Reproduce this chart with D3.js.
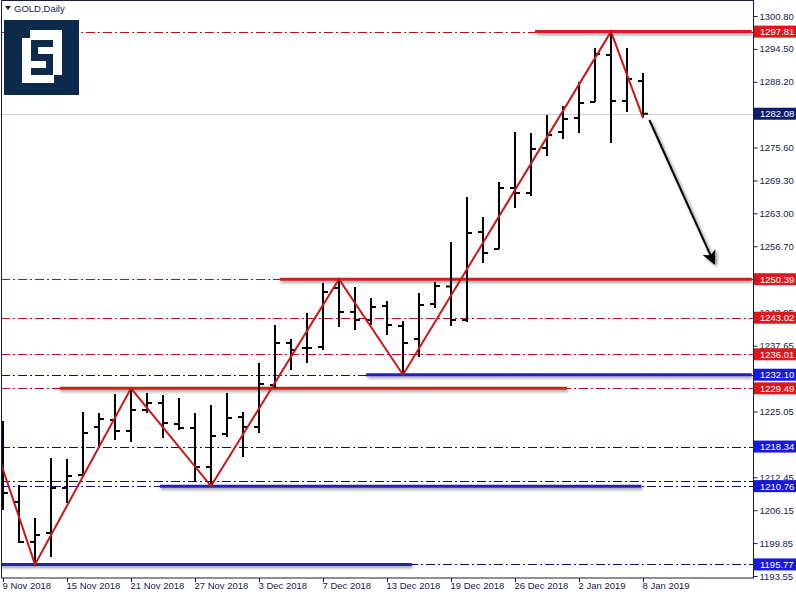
<!DOCTYPE html>
<html><head><meta charset="utf-8">
<script src="https://cdn.jsdelivr.net/npm/d3@7/dist/d3.min.js"></script>
<style>
html,body{margin:0;padding:0;background:#fff;}
svg{display:block;}
text{font-family:"Liberation Sans",Arial,sans-serif;}
</style></head>
<body>
<script>
// ---- data ----
const dates = ["9 Nov 2018","12 Nov 2018","13 Nov 2018","14 Nov 2018","15 Nov 2018","16 Nov 2018",
 "19 Nov 2018","20 Nov 2018","21 Nov 2018","22 Nov 2018","23 Nov 2018","26 Nov 2018","27 Nov 2018",
 "28 Nov 2018","29 Nov 2018","30 Nov 2018","3 Dec 2018","4 Dec 2018","5 Dec 2018","6 Dec 2018",
 "7 Dec 2018","10 Dec 2018","11 Dec 2018","12 Dec 2018","13 Dec 2018","14 Dec 2018","17 Dec 2018",
 "18 Dec 2018","19 Dec 2018","20 Dec 2018","21 Dec 2018","24 Dec 2018","26 Dec 2018","27 Dec 2018",
 "28 Dec 2018","31 Dec 2018","2 Jan 2019","3 Jan 2019","4 Jan 2019","7 Jan 2019","8 Jan 2019"];
const open  = [1220.00,1207.72,1200.06,1201.78,1210.40,1212.89,1222.09,1223.43,1221.32,1225.34,1226.68,1222.66,1221.90,
 1214.42,1220.75,1224.00,1222.09,1230.13,1238.17,1237.22,1237.41,1248.71,1244.11,1242.58,1245.26,1241.43,1238.94,
 1245.64,1249.00,1242.58,1259.43,1256.18,1267.86,1266.90,1275.52,1278.58,1281.26,1284.33,1293.33,1284.52,1288.35];
const high  = [1223.23,1210.98,1204.66,1216.15,1215.96,1224.96,1224.77,1228.41,1229.49,1228.60,1228.21,1227.64,1224.77,
 1226.30,1228.60,1224.96,1234.34,1241.62,1238.94,1243.92,1249.66,1250.39,1248.90,1246.79,1246.22,1242.39,1247.75,
 1249.86,1257.52,1266.13,1262.30,1269.01,1278.58,1278.39,1281.84,1283.56,1288.16,1294.67,1297.81,1294.67,1289.88];
const low   = [1206.19,1199.87,1195.77,1197.19,1207.53,1212.51,1218.06,1219.60,1219.21,1224.77,1219.98,1221.51,1211.55,
 1210.76,1220.17,1216.34,1220.94,1229.55,1233.00,1234.34,1236.83,1241.24,1240.66,1241.62,1239.71,1232.10,1235.49,
 1244.88,1241.43,1242.20,1253.49,1256.18,1264.03,1266.33,1273.99,1277.24,1278.39,1284.33,1276.48,1282.41,1281.30];
const close = [1209.45,1200.06,1201.40,1210.40,1212.70,1220.94,1223.62,1221.32,1225.34,1226.68,1222.85,1221.90,1214.42,
 1220.36,1223.81,1222.09,1230.32,1238.17,1236.83,1237.22,1247.94,1244.11,1242.58,1245.07,1241.62,1238.17,1245.45,
 1249.09,1242.58,1259.24,1255.41,1267.86,1266.90,1275.33,1278.01,1281.07,1284.14,1293.52,1284.52,1288.73,1282.08];
// zigzag vertices: [bar index, price]
const zigIdx   = [-1, 2, 8, 13, 21, 25, 38, 40];
const zigPrice = [1223.04, 1195.77, 1229.49, 1210.76, 1250.39, 1232.10, 1297.81, 1281.30];
// axis tick labels
const yTicks = [1300.80,1294.50,1288.20,1275.60,1269.30,1263.00,1256.70,1243.95,1237.65,1225.05,1212.45,1206.15,1199.85,1193.55];
const xTickIdx = [0,4,8,12,16,20,24,28,32,36,40];
// horizontal levels
const dashLevels = [1297.81,1250.39,1243.02,1236.01,1229.49,1232.10,1218.34,1211.74,1210.76,1195.77];
const dashKinds  = ["r","r","r","r","r","b","b","b","b","b"];
const segPrice = [1297.81,1250.39,1229.49,1232.10,1210.76,1195.77];
const segFrom  = [33.25,17.3,3.55,22.7,9.8,-0.3];
const segTo    = [46.8,46.8,35.25,46.8,39.9,25.55];
const segKind  = ["r","r","r","b","b","b"];
const labelPrice = [1297.81,1282.08,1250.39,1243.02,1236.01,1232.10,1229.49,1218.34,1210.76,1195.77];
const labelKind  = ["r","n","r","r","r","b","r","b","b","b"];
const currentPrice = 1282.08;
const arrowFrom = [40.4,1280.88], arrowTo = [44.45,1253.4];

// ---- layout ----
const W=796,H=594, plotL=1, plotR=753, plotT=1, plotB=578;
const svg=d3.select("body").append("svg").attr("width",W).attr("height",H);
const defs=svg.append("defs");
defs.append("clipPath").attr("id","clip").append("rect")
  .attr("x",plotL+1).attr("y",plotT+1).attr("width",plotR-plotL-1).attr("height",plotB-plotT-1);
const f=defs.append("filter").attr("id","sh").attr("filterUnits","userSpaceOnUse")
  .attr("x",0).attr("y",0).attr("width",W).attr("height",H);
f.append("feDropShadow").attr("dx",1).attr("dy",2).attr("stdDeviation",1.6).attr("flood-color","#000").attr("flood-opacity",0.4);
const f2=defs.append("filter").attr("id","sh2").attr("filterUnits","userSpaceOnUse")
  .attr("x",0).attr("y",0).attr("width",W).attr("height",H);
f2.append("feDropShadow").attr("dx",2).attr("dy",2).attr("stdDeviation",1.8).attr("flood-color","#000").attr("flood-opacity",0.45);
defs.append("marker").attr("id","ah").attr("viewBox","0 0 10 10").attr("refX",9).attr("refY",5)
  .attr("markerWidth",9).attr("markerHeight",7).attr("orient","auto").attr("markerUnits","strokeWidth")
  .append("path").attr("d","M0,0 L10,5 L0,10 L2.5,5 Z").attr("fill","#000");

const x=d3.scaleLinear().domain([0,40]).range([3,643]);
const y=d3.scaleLinear().domain([1193.55,1300.80]).range([576,16]);

const g=svg.append("g").attr("clip-path","url(#clip)");
const redDash="#b81414", navyDash="#10106a";

// current price line
g.append("line").attr("x1",plotL).attr("x2",plotR).attr("y1",Math.round(y(currentPrice))+0.5).attr("y2",Math.round(y(currentPrice))+0.5)
  .attr("stroke","#d0d0d0").attr("stroke-width",1);

// dash-dot levels
g.selectAll(".lvl").data(dashLevels).enter().append("line")
  .attr("x1",plotL).attr("x2",plotR)
  .attr("y1",d=>Math.round(y(d))+0.5).attr("y2",d=>Math.round(y(d))+0.5)
  .attr("stroke",(d,i)=>dashKinds[i]==="r"?redDash:navyDash).attr("stroke-width",1)
  .attr("stroke-dasharray","9,3,2,3");

// thick segments
g.selectAll(".seg").data(segPrice).enter().append("line")
  .attr("x1",(d,i)=>x(segFrom[i])).attr("x2",(d,i)=>x(segTo[i]))
  .attr("y1",d=>y(d)).attr("y2",d=>y(d))
  .attr("stroke",(d,i)=>segKind[i]==="r"?"#d81e1e":"#2424b8").attr("stroke-width",3)
  .attr("filter","url(#sh)");

// bars
const bars=g.selectAll(".bar").data(dates).enter().append("g");
bars.append("line").attr("x1",(d,i)=>x(i)).attr("x2",(d,i)=>x(i))
  .attr("y1",(d,i)=>y(high[i])).attr("y2",(d,i)=>y(low[i])).attr("stroke","#000").attr("stroke-width",2);
bars.append("line").attr("x1",(d,i)=>x(i)-5).attr("x2",(d,i)=>x(i))
  .attr("y1",(d,i)=>y(open[i])).attr("y2",(d,i)=>y(open[i])).attr("stroke","#000").attr("stroke-width",2);
bars.append("line").attr("x1",(d,i)=>x(i)).attr("x2",(d,i)=>x(i)+5)
  .attr("y1",(d,i)=>y(close[i])).attr("y2",(d,i)=>y(close[i])).attr("stroke","#000").attr("stroke-width",2);

// zigzag
g.append("path").datum(zigIdx.map((d,i)=>[d,zigPrice[i]]))
  .attr("d",d3.line().x(d=>x(d[0])).y(d=>y(d[1])))
  .attr("fill","none").attr("stroke","#c81818").attr("stroke-width",2);

// arrow
g.append("line").attr("x1",x(arrowFrom[0])).attr("y1",y(arrowFrom[1])).attr("x2",x(arrowTo[0])).attr("y2",y(arrowTo[1]))
  .attr("stroke","#000").attr("stroke-width",2).attr("marker-end","url(#ah)").attr("filter","url(#sh2)");

// frame
svg.append("rect").attr("x",plotL+0.5).attr("y",plotT-0.5).attr("width",plotR-plotL).attr("height",plotB-plotT+0.5)
  .attr("fill","none").attr("stroke","#1a1a3a").attr("stroke-width",1);

// axes
const axCol="#1a1a50";
const ya=svg.append("g").attr("transform",`translate(${plotR+0.5},0)`)
  .call(d3.axisRight(y).tickValues(yTicks).tickSize(4).tickPadding(2).tickFormat(d3.format(".2f")));
ya.select(".domain").remove();
ya.selectAll("line").attr("stroke",axCol);
ya.selectAll("text").attr("fill",axCol).style("font-size","9.5px");

const xa=svg.append("g").attr("transform",`translate(0,${plotB})`)
  .call(d3.axisBottom(x).tickValues(xTickIdx).tickSize(4).tickFormat(d=>dates[d]));
xa.select(".domain").remove();
xa.selectAll("line").attr("stroke",axCol);
xa.selectAll("text").attr("fill",axCol).style("font-size","9.5px").attr("text-anchor","start").attr("x",-1).attr("dy","0.6em").attr("y",5);

// price labels
const colMap={r:"#e0161c",b:"#1818e0",n:"#0c1c6c"};
const lab=svg.selectAll(".plab").data(labelPrice).enter().append("g")
  .attr("transform",d=>`translate(${plotR+1},${y(d)})`);
lab.append("rect").attr("x",0).attr("y",-6).attr("width",W-plotR).attr("height",12)
  .attr("fill",(d,i)=>colMap[labelKind[i]]);
lab.append("text").attr("x",6).attr("y",3.5).attr("fill","#fff").style("font-size","9.5px").text(d=>d.toFixed(2));

// title
svg.append("path").attr("d","M5,6 L11,6 L8,10 Z").attr("fill","#1a1a50");
svg.append("text").attr("x",14).attr("y",11.5).attr("fill","#1a1a50").style("font-size","9.5px").text("GOLD,Daily");

// logo
const lg=svg.append("g");
const navy="#0c2b4b";
lg.append("rect").attr("x",4).attr("y",20).attr("width",75).attr("height",75).attr("fill",navy);
lg.append("rect").attr("x",22).attr("y",38).attr("width",32).attr("height",45).attr("fill","#fff");
lg.append("rect").attr("x",30).attr("y",30).attr("width",32).attr("height",45).attr("fill","#fff");
lg.append("rect").attr("x",31).attr("y",40).attr("width",22).attr("height",35).attr("fill",navy);
lg.append("rect").attr("x",38).attr("y",47).attr("width",15).attr("height",7).attr("fill","#fff");
lg.append("rect").attr("x",31).attr("y",61).attr("width",15).attr("height",7).attr("fill","#fff");
</script>
</body></html>
